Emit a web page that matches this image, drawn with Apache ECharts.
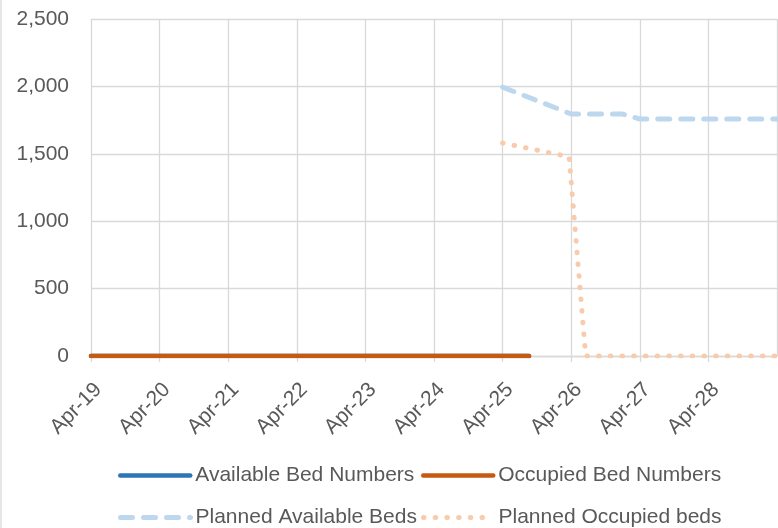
<!DOCTYPE html>
<html>
<head>
<meta charset="utf-8">
<script src="https://cdn.jsdelivr.net/npm/echarts@6.0.0/dist/echarts.min.js"></script>
<style>
  html, body { margin: 0; padding: 0; background: #fff; }
  #chart { width: 778px; height: 528px; }
</style>
</head>
<body>
<div id="chart"></div>
<script>
"use strict"

// x positions are dates, drawn on a month scale starting at Apr-19
const yearTicks = ['Apr-19', 'Apr-20', 'Apr-21', 'Apr-22', 'Apr-23', 'Apr-24', 'Apr-25', 'Apr-26', 'Apr-27', 'Apr-28'];

const availDates = ['2019-04-01', '2025-08-20'];
const availValues = [0, 0];

const occDates = ['2019-04-01', '2025-08-20'];
const occValues = [0, 0];

const planAvailDates = ['2025-04-01', '2026-04-01', '2027-01-01', '2027-04-01', '2029-04-01'];
const planAvailValues = [1995, 1795, 1795, 1758, 1758];

const planOccDates = ['2025-04-01', '2026-03-20', '2026-06-17', '2029-04-01'];
const planOccValues = [1580, 1478, 0, 0];

const FONT = "'Liberation Sans', Arial, sans-serif";
const FONT_SIZE = 21;
const TEXT = '#595959';
const GRID = '#d9d9d9';

// months since Apr 2019 (fractional for the day)
function monthPos(s) {
    var p = s.split('-');
    var y = +p[0], m = +p[1], d = +p[2];
    return (y - 2019) * 12 + (m - 4) + (d - 1) / 30;
}

function pairs(dates, values) {
    var out = [];
    for (var i = 0; i < dates.length; i++) {
        out.push([monthPos(dates[i]), values[i]]);
    }
    return out;
}

function legendAt(name, left, top, width) {
    return {
        data: [name],
        left: left,
        top: top,
        padding: 0,
        itemWidth: 70,
        itemHeight: 14,
        itemGap: 5,
        itemStyle: { opacity: 0 },
        lineStyle: { width: width },
        textStyle: { color: TEXT, fontSize: FONT_SIZE, fontFamily: FONT },
        selectedMode: false,
    };
}

var chart = echarts.init(document.getElementById('chart'), null, { renderer: 'canvas' });

var option = {
    animation: false,
    grid: { left: 91, right: 1, top: 19, bottom: 172 },
    xAxis: {
        type: 'value',
        min: 0,
        max: 120,
        interval: 12,
        axisLine: { show: true, lineStyle: { color: GRID, width: 1.3 } },
        axisTick: { show: true, length: 6, lineStyle: { color: GRID, width: 1.3 } },
        splitLine: { show: true, lineStyle: { color: GRID, width: 1.3 } },
        axisLabel: {
            rotate: 45,
            margin: 23,
            align: 'right',
            verticalAlign: 'top',
            color: TEXT,
            fontSize: FONT_SIZE,
            fontFamily: FONT,
            showMaxLabel: false,
            formatter: function (v) { return yearTicks[Math.round(v / 12)] || ''; }
        }
    },
    yAxis: {
        type: 'value',
        min: 0,
        max: 2500,
        interval: 500,
        axisLine: { show: false },
        axisTick: { show: false },
        splitLine: { show: true, lineStyle: { color: GRID, width: 1.3 } },
        axisLabel: {
            margin: 22,
            color: TEXT,
            fontSize: FONT_SIZE,
            fontFamily: FONT,
            formatter: function (v) { return v.toLocaleString('en-US'); }
        }
    },
    legend: [
        legendAt('Available Bed Numbers', 118, 465, 4.5),
        legendAt('Occupied Bed Numbers', 421, 465, 4.5),
        legendAt('Planned Available Beds', 118, 507, 5),
        legendAt('Planned Occupied beds', 421, 507, 5),
    ],
    graphic: [{
        type: 'line',
        shape: { x1: 1, y1: 0, x2: 1, y2: 528 },
        style: { stroke: GRID, lineWidth: 1.3 }
    }],
    series: [
        {
            name: 'Available Bed Numbers',
            type: 'line',
            data: pairs(availDates, availValues),
            symbol: 'none',
            itemStyle: { color: '#2e75b6' },
            lineStyle: { color: '#2e75b6', width: 4.5, cap: 'round' },
        },
        {
            name: 'Occupied Bed Numbers',
            type: 'line',
            data: pairs(occDates, occValues),
            symbol: 'none',
            itemStyle: { color: '#c55a11' },
            lineStyle: { color: '#c55a11', width: 4.5, cap: 'round' },
        },
        {
            name: 'Planned Available Beds',
            type: 'line',
            data: pairs(planAvailDates, planAvailValues),
            symbol: 'none',
            itemStyle: { color: '#bdd7ee' },
            lineStyle: { color: '#bdd7ee', width: 5, type: [12, 11], cap: 'round', join: 'round' },
        },
        {
            name: 'Planned Occupied beds',
            type: 'line',
            data: pairs(planOccDates, planOccValues),
            symbol: 'none',
            itemStyle: { color: '#f8cbad' },
            lineStyle: { color: '#f8cbad', width: 5, type: [0.5, 11.2], cap: 'round', join: 'round' },
        },
    ],
};

chart.setOption(option);
</script>
</body>
</html>
